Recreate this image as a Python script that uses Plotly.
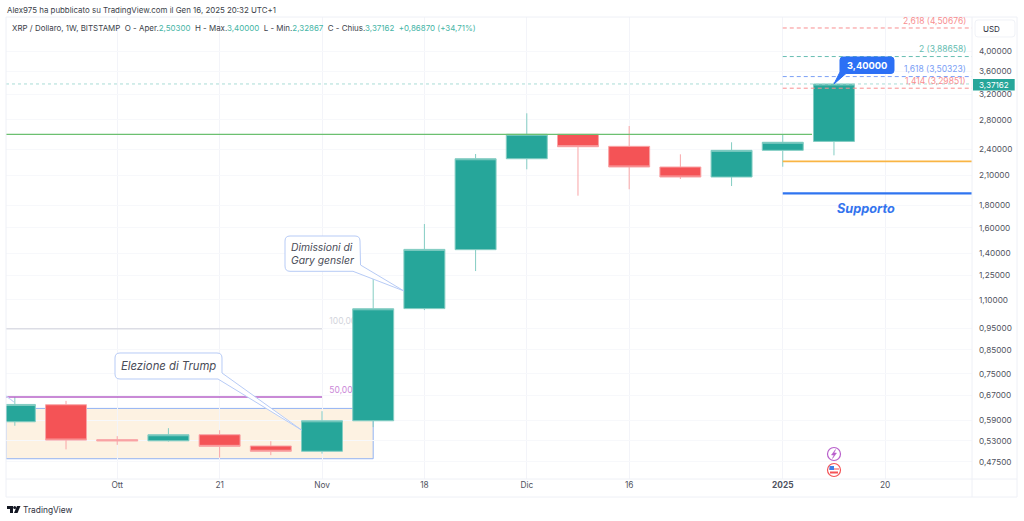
import plotly.graph_objects as go

W, H = 1024, 521
L, R, T, B = 6, 972, 17, 479

# candele settimanali XRP/USD
dates = ['2024-09-23', '2024-09-30', '2024-10-07', '2024-10-14', '2024-10-21', '2024-10-28',
         '2024-11-04', '2024-11-11', '2024-11-18', '2024-11-25', '2024-12-02', '2024-12-09',
         '2024-12-16', '2024-12-23', '2024-12-30', '2025-01-06', '2025-01-13']
opens = [.585, .639, .533, .530, .547, .516, .502, .588, 1.052, 1.428, 2.288, 2.597, 2.44, 2.192, 2.081, 2.39, 2.503]
highs = [.665, .652, .543, .566, .560, .529, .618, 1.263, 1.631, 2.345, 2.896, 2.60, 2.711, 2.341, 2.492, 2.597, 3.40]
lows = [.573, .507, .519, .528, .486, .492, .496, .569, 1.044, 1.278, 2.166, 1.889, 1.953, 2.060, 1.986, 2.195, 2.32867]
closes = [.640, .532, .530, .547, .515, .502, .588, 1.051, 1.430, 2.288, 2.597, 2.435, 2.192, 2.081, 2.390, 2.492, 3.37162]

ytick_vals = [4.0, 3.6, 3.2, 2.8, 2.4, 2.1, 1.8, 1.6, 1.4, 1.25, 1.1, .95, .85, .75, .67, .59, .53, .475]
ytick_text = ['4,00000', '3,60000', '3,20000', '2,80000', '2,40000', '2,10000', '1,80000', '1,60000', '1,40000',
              '1,25000', '1,10000', '0,95000', '0,85000', '0,75000', '0,67000', '0,59000', '0,53000', '0,47500']
xtick_vals = ['2024-10-07', '2024-10-21', '2024-11-04', '2024-11-18', '2024-12-02', '2024-12-16', '2025-01-06', '2025-01-20']
xtick_text = ['Ott', '21', 'Nov', '18', 'Dic', '16', '<b>2025</b>', '20']

# livelli
fib_levels = [4.50676, 3.88658, 3.50323, 3.29851]
fib_text = ['2,618 (4,50676)', '2 (3,88658)', '1,618 (3,50323)', '1,414 (3,29851)']
fib_colors = ['#f88e90', '#66bdb2', '#7ba0f6', '#f88e90']
fib_text_y = [21, 49, 69, 81]
start_fib, end_right = '2025-01-06', '2025-01-31 21:00'
left_edge = '2024-09-21 19:00'
resist = 2.597
orange_level = 2.258
support = 1.912
last_price = 3.37162
box_top, box_bottom = .627, .483
fib_50 = .665
fib_100 = .948

UP, DOWN = '#26a69a', '#f45356'
TEXT = '#50535e'
FONT = 'Inter'


def px(x, y):
    return (x - L) / (R - L), (B - y) / (B - T)


def path(points):
    out = ''
    for cmd, *xy in points:
        s = [px(xy[i], xy[i + 1]) for i in range(0, len(xy), 2)]
        out += cmd + ' '.join(f'{a:.5f},{b:.5f}' for a, b in s) + ' '
    return out + 'Z'


def note(x, y, text, size=9, color=TEXT, anchor='center', **kw):
    a, b = px(x, y)
    fig.add_annotation(xref='paper', yref='paper', x=a, y=b, text=text, showarrow=False, xanchor=anchor,
                       yanchor='middle', font=dict(size=size, color=color, family=FONT), **kw)


def shape_px(points, fill, line, width=1):
    fig.add_shape(type='path', xref='paper', yref='paper', path=path(points), fillcolor=fill,
                  line=dict(color=line, width=width))


def circle(cx, cy, r, fill, line, width=1):
    x0, y0 = px(cx - r, cy + r)
    x1, y1 = px(cx + r, cy - r)
    fig.add_shape(type='circle', xref='paper', yref='paper', x0=x0, y0=y0, x1=x1, y1=y1, fillcolor=fill,
                  line=dict(color=line, width=width))


def hline(x0, x1, level, color, width=1, dash='solid'):
    fig.add_trace(go.Scatter(x=[x0, x1], y=[level, level], mode='lines', hoverinfo='skip', showlegend=False,
                             line=dict(color=color, width=width, dash=dash)))


fig = go.Figure()

# rettangolo e etichette sotto le candele
fig.add_shape(type='rect', xref='x', yref='y', layer='below', x0=left_edge, x1='2024-11-11', y0=box_bottom, y1=box_top,
              fillcolor='#fdf2e2', line=dict(color='#93b2f3', width=1))
for level, label, color in [(fib_100, '100,00%', '#d3d5dc'), (fib_50, '50,00%', '#cb88d8')]:
    fig.add_shape(type='line', xref='x', yref='y', layer='below', x0='2024-11-05', x1='2024-11-24', y0=level, y1=level,
                  line=dict(color='rgba(0,0,0,0)', width=0),
                  label=dict(text=label, textposition='start', xanchor='left', yanchor='bottom', padding=3,
                             font=dict(size=8.5, color=color, family=FONT)))

fig.add_trace(go.Candlestick(
    x=dates, open=opens, high=highs, low=lows, close=closes, hoverinfo='skip', showlegend=False,
    increasing=dict(fillcolor=UP, line=dict(color='#84cdc3', width=1)),
    decreasing=dict(fillcolor=DOWN, line=dict(color='#f9a5a7', width=1))))

hline(left_edge, end_right, last_price, '#a9dcd6', 1, 'dot')
hline(left_edge, '2024-11-04', fib_100, '#dcdde5', 1.5)
hline(left_edge, '2024-11-04', fib_50, '#b763c9', 1.5)
hline(left_edge, '2025-01-10', resist, '#6cc070', 1.2)
hline(start_fib, end_right, orange_level, '#f9b544', 1.8)
hline(start_fib, end_right, support, '#2f74f0', 2.2)
for level, color in zip(fib_levels, fib_colors):
    hline(start_fib, end_right, level, color, 1, '4px,3px')

fig.update_layout(
    width=W, height=H, margin=dict(l=L, r=W - R, t=T, b=H - B, pad=0), paper_bgcolor='white', plot_bgcolor='white',
    showlegend=False, boxgap=0.2, boxgroupgap=0, font=dict(family=FONT, size=9, color=TEXT),
    xaxis=dict(type='date', range=[left_edge, end_right], rangeslider=dict(visible=False), tickmode='array',
               tickvals=xtick_vals, ticktext=xtick_text, showgrid=True, gridcolor='#f3f4f9', gridwidth=1,
               zeroline=False, ticks='', tickfont=dict(size=8.3, color=TEXT, family=FONT)),
    yaxis=dict(type='log', range=[-.36169, .67862], side='right', tickmode='array', tickvals=ytick_vals,
               ticktext=ytick_text, showgrid=True, gridcolor='#f7f8fb', gridwidth=1, zeroline=False, ticks='',
               ticklabelstandoff=6, tickfont=dict(size=8.2, color=TEXT, family=FONT)),
)

# cornice
for x0, y0, x1, y1 in [(L, T, 1017, T), (L, B, 1017, B), (L, 497, 1017, 497), (R, T, R, 497), (1017, T, 1017, 497), (L, T, L, 497)]:
    a, b = px(x0, y0)
    c, d = px(x1, y1)
    fig.add_shape(type='line', xref='paper', yref='paper', x0=a, y0=b, x1=c, y1=d, line=dict(color='#eef0f6', width=1))

# tratto del fibonacci in alto a sinistra
shape_px([('M', 6, 396), ('L', 14, 402)], 'rgba(0,0,0,0)', '#c9d8f8')

# intestazione
note(5, 10, 'Alex975 ha pubblicato su TradingView.com il Gen 16, 2025 20:32 UTC+1', 7.9, '#3c3f4a', 'left')
g = '<span style="color:#45b5a6">%s</span>'
legend = ('XRP / Dollaro, 1W, BITSTAMP\u00a0\u00a0O - Aper.' + g % '2,50300' + '\u00a0\u00a0H - Max.' + g % '3,40000'
          + '\u00a0\u00a0L - Min.' + g % '2,32867' + '\u00a0\u00a0C - Chius.' + g % '3,37162'
          + '\u00a0\u00a0' + g % '+0,86870 (+34,71%)')
note(10, 28, legend, 7.95, '#3c3f4a', 'left')

# etichette fibonacci e supporto
for label, color, y in zip(fib_text, fib_colors, fib_text_y):
    note(968, y, label, 8.5, color, 'right')
note(866, 208, '<b><i>Supporto</i></b>', 12.7, '#3474ee')

# scala a destra
shape_px([('M', 978, 20), ('L', 1012, 20), ('Q', 1015, 20, 1015, 23), ('L', 1015, 34), ('Q', 1015, 37, 1012, 37), ('L', 978, 37),
          ('Q', 975, 37, 975, 34), ('L', 975, 23), ('Q', 975, 20, 978, 20)], 'white', '#f0f2f7')
note(991.6, 29, 'USD', 8, '#2e3140')
shape_px([('M', 973, 79), ('L', 1014.7, 79), ('L', 1014.7, 90.5), ('L', 973, 90.5)], UP, UP, 0)
note(994, 84.7, '3,37162', 8.1, 'white')

# richiami
shape_px([('M', 120, 353), ('L', 217, 353), ('Q', 222, 353, 222, 358), ('L', 222, 373), ('L', 301.5, 430), ('L', 218, 379),
          ('L', 120, 379), ('Q', 115, 379, 115, 374), ('L', 115, 358), ('Q', 115, 353, 120, 353)], 'white', '#b7cbf6')
note(168.5, 366, '<i>Elezione di Trump</i>', 11.3, '#4a4c57')
shape_px([('M', 290, 236), ('L', 355, 236), ('Q', 360, 236, 360, 241), ('L', 360.5, 265), ('L', 404, 291), ('L', 353, 271.3),
          ('L', 290, 271.3), ('Q', 285, 271.3, 285, 266), ('L', 285, 241), ('Q', 285, 236, 290, 236)], 'white', '#b7cbf6')
note(289, 253.5, '<i>Dimissioni di<br>Gary gensler</i>', 10.3, '#4a4c57', 'left', align='left')
shape_px([('M', 843, 57), ('L', 891, 57), ('Q', 894, 57, 894, 60), ('L', 894, 70.5), ('Q', 894, 73.5, 891, 73.5), ('L', 846, 73.5),
          ('L', 834, 84), ('L', 840, 72), ('L', 840, 60), ('Q', 840, 57, 843, 57)], '#2c70f5', '#2c70f5')
note(867, 65, '<b>3,40000</b>', 9.3, 'white')

# icone eventi
circle(834, 454, 6.5, 'white', '#b85fcb', 1.2)
shape_px([('M', 835.5, 449.5), ('L', 831.5, 455), ('L', 834, 455), ('L', 832.5, 458.5), ('L', 836.5, 453), ('L', 834, 453)], '#b85fcb', '#b85fcb', 0.5)
circle(834, 470, 6.5, 'white', '#f45356', 1.2)
shape_px([('M', 829, 468), ('L', 839, 468), ('L', 839, 470), ('L', 829, 470)], '#f7a5a7', '#f7a5a7', 0)
shape_px([('M', 830, 471.5), ('L', 838, 471.5), ('L', 838, 473.5), ('L', 830, 473.5)], '#f45356', '#f45356', 0)
shape_px([('M', 829.5, 466), ('L', 834, 466), ('L', 834, 470), ('L', 829.5, 470)], '#3f7fe8', '#3f7fe8', 0)

# logo
shape_px([('M', 7, 506), ('L', 13, 506), ('L', 13, 513), ('L', 10, 513), ('L', 10, 509), ('L', 7, 509)], '#131722', '#131722', 0)
shape_px([('M', 14, 513), ('L', 17, 506), ('L', 20.5, 506), ('L', 17.5, 513)], '#131722', '#131722', 0)
circle(14.7, 507.5, 1.5, '#131722', '#131722', 0)
note(20.7, 510, 'TradingView', 8.4, '#2e3140', 'left')

fig.write_html('out.html', config=dict(displayModeBar=False), post_script="document.body.style.margin='0';")
